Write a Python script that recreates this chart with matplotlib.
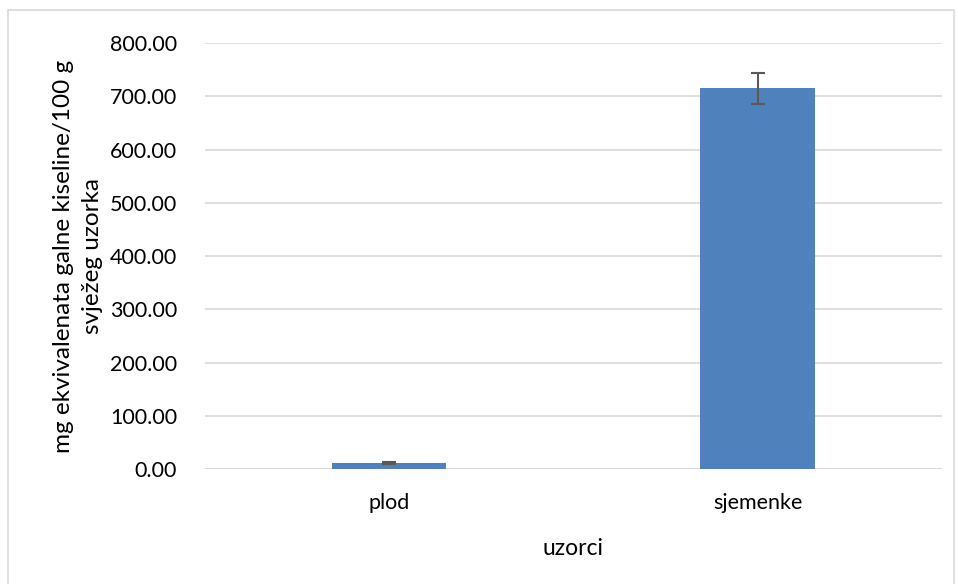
import matplotlib.pyplot as plt
from matplotlib.patches import Rectangle
from matplotlib.ticker import FormatStrFormatter

plt.rcParams['font.family'] = ['Lato', 'DejaVu Sans']

# podaci
uzorci = ["plod", "sjemenke"]
vrijednosti = [11.0, 715.0]
greske = [2.0, 29.0]

fig = plt.figure(figsize=(9.58, 5.84), dpi=100)
ax = fig.add_axes([0.214, 0.197, 0.769, 0.729])

x = range(len(uzorci))
ax.bar(x, vrijednosti, width=0.31, color="#4f81bd", zorder=3,
       yerr=greske, error_kw=dict(ecolor="#595959", elinewidth=1.5, capsize=4.7, capthick=1.5, zorder=4))

ax.set_xlim(-0.5, 1.5)
ax.set_ylim(0, 800)
ax.set_yticks(range(0, 801, 100))
ax.yaxis.set_major_formatter(FormatStrFormatter("%.2f"))
ax.set_xticks(list(x))
ax.set_xticklabels(uzorci)
ax.grid(axis="y", color="#d9d9d9", linewidth=1.2, zorder=0)
for s in ["top", "right", "left", "bottom"]:
    ax.spines[s].set_visible(False)
ax.axhline(0, color="#d9d9d9", linewidth=1.2, zorder=1)
ax.tick_params(axis="both", length=0, labelsize=15.5, colors="#000000")
ax.tick_params(axis="y", pad=20)
ax.tick_params(axis="x", pad=17)

ax.set_xlabel("uzorci", fontsize=16.5, labelpad=18)
ax.set_ylabel("mg ekvivalenata galne kiseline/100 g\nsvježeg uzorka", fontsize=17.5, labelpad=5, linespacing=1.5)

# okvir oko grafikona
fig.patches.append(Rectangle((8 / 958, -0.01), 946 / 958, 1 - 10 / 584 + 0.01, transform=fig.transFigure,
                             fill=False, edgecolor="#d9d9d9", linewidth=1.2))

fig.savefig("out.png", dpi=100)
